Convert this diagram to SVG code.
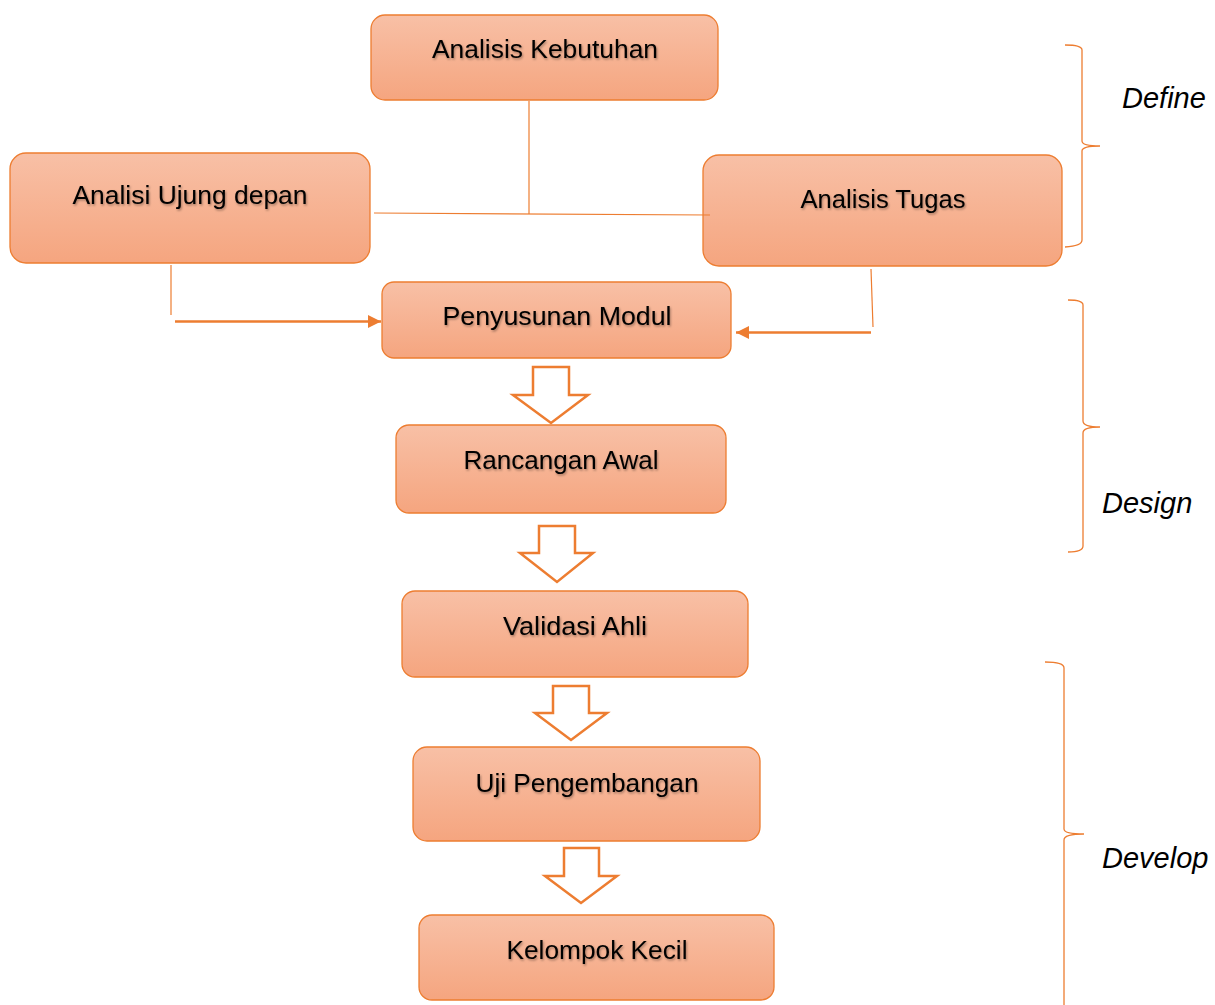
<svg xmlns="http://www.w3.org/2000/svg" width="1215" height="1005" viewBox="0 0 1215 1005">
<defs>
<linearGradient id="g" x1="0" y1="0" x2="0" y2="1">
<stop offset="0" stop-color="#F8C0A6"/>
<stop offset="1" stop-color="#F5A57F"/>
</linearGradient>
<filter id="sh" x="-10%" y="-30%" width="120%" height="160%">
<feDropShadow dx="1" dy="1.5" stdDeviation="0.8" flood-color="#000" flood-opacity="0.35"/>
</filter>
<marker id="ah" viewBox="0 0 10 10" refX="10" refY="5" markerWidth="5.6" markerHeight="5.2" markerUnits="strokeWidth" orient="auto">
<path d="M0,0 L10,5 L0,10 z" fill="#ED7D31"/>
</marker>
<style>
.box{fill:url(#g);stroke:#ED7D31;stroke-width:1.3}
.lbl{font-family:"Liberation Sans","Open Sans",sans-serif;font-size:25px;fill:#000;text-anchor:middle;filter:url(#sh)}
.phase{font-family:"Liberation Sans",Arial,sans-serif;font-size:29px;font-style:italic;fill:#000}
.ln{fill:none;stroke:#ED7D31;stroke-width:1.2}
.arw{fill:none;stroke:#ED7D31;stroke-width:2.5}
.blk{fill:#fff;stroke:#ED7D31;stroke-width:2.5;stroke-linejoin:miter}
.br{fill:none;stroke:#ED7D31;stroke-width:1.3}
</style>
</defs>
<rect width="1215" height="1005" fill="#fff"/>

<g id="n-kebutuhan">
<rect class="box" x="371" y="15" width="347" height="85" rx="14"/>
<text class="lbl" x="545" y="58" textLength="226" lengthAdjust="spacingAndGlyphs">Analisis Kebutuhan</text>
</g>
<g id="n-ujung">
<rect class="box" x="10" y="153" width="360" height="110" rx="16"/>
<text class="lbl" x="190" y="204" textLength="235" lengthAdjust="spacingAndGlyphs">Analisi Ujung depan</text>
</g>
<g id="n-tugas">
<rect class="box" x="703" y="155" width="359" height="111" rx="16"/>
<text class="lbl" x="883" y="208" textLength="165" lengthAdjust="spacingAndGlyphs">Analisis Tugas</text>
</g>
<g id="n-penyusunan">
<rect class="box" x="382" y="282" width="349" height="76" rx="12"/>
<text class="lbl" x="557" y="325" textLength="229" lengthAdjust="spacingAndGlyphs">Penyusunan Modul</text>
</g>
<g id="n-rancangan">
<rect class="box" x="396" y="425" width="330" height="88" rx="13"/>
<text class="lbl" x="561" y="469" textLength="195" lengthAdjust="spacingAndGlyphs">Rancangan Awal</text>
</g>
<g id="n-validasi">
<rect class="box" x="402" y="591" width="346" height="86" rx="13"/>
<text class="lbl" x="575" y="635" textLength="144" lengthAdjust="spacingAndGlyphs">Validasi Ahli</text>
</g>
<g id="n-uji">
<rect class="box" x="413" y="747" width="347" height="94" rx="14"/>
<text class="lbl" x="587" y="792" textLength="223" lengthAdjust="spacingAndGlyphs">Uji Pengembangan</text>
</g>
<g id="n-kelompok">
<rect class="box" x="419" y="915" width="355" height="85" rx="13"/>
<text class="lbl" x="597" y="959" textLength="181" lengthAdjust="spacingAndGlyphs">Kelompok Kecil</text>
</g>

<g id="connectors">
<line class="ln" x1="529" y1="101" x2="529" y2="214"/>
<line class="ln" x1="374" y1="213" x2="710" y2="215"/>
<line class="ln" x1="171" y1="265" x2="171" y2="315"/>
<line class="arw" x1="175" y1="321.5" x2="381" y2="321.5" marker-end="url(#ah)"/>
<line class="ln" x1="871" y1="269" x2="873" y2="327"/>
<line class="arw" x1="871" y1="332.5" x2="736" y2="332.5" marker-end="url(#ah)"/>
<path class="blk" d="M533,367 H569 V395 H588 L551,423 L513,395 H533 Z"/>
<path class="blk" d="M539,526 H575 V553 H593 L557,582 L520,553 H539 Z"/>
<path class="blk" d="M553,686 H589 V713 H607 L571,740 L535,713 H553 Z"/>
<path class="blk" d="M564,848 H599 V876 H617 L581,903 L545,876 H564 Z"/>
</g>

<g id="brace-define">
<path class="br" d="M1065,45 Q1082,45 1082,50 V141 Q1082,146 1100,146 Q1082,146 1082,151 V240 Q1082,246 1065,247"/>
<text class="phase" x="1122" y="108">Define</text>
</g>
<g id="brace-design">
<path class="br" d="M1068,300 Q1083,300 1083,305 V421 Q1083,427 1100,427 Q1083,427 1083,433 V546 Q1083,552 1068,552"/>
<text class="phase" x="1102" y="513">Design</text>
</g>
<g id="brace-develop">
<path class="br" d="M1045,662 Q1064,662 1064,668 V829 Q1064,834 1084,834 Q1064,834 1064,840 V1005"/>
<text class="phase" x="1102" y="868">Develop</text>
</g>
</svg>
